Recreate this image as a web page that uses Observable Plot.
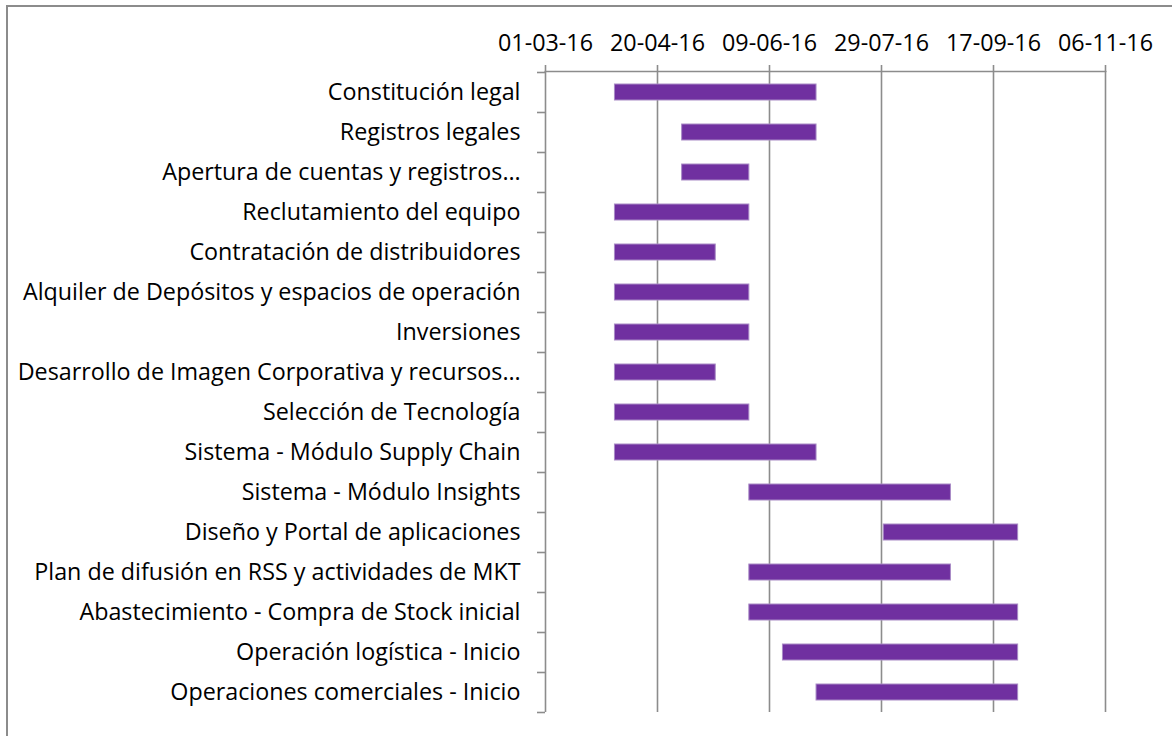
<!DOCTYPE html>
<html>
<head>
<meta charset="utf-8">
<script src="https://cdn.jsdelivr.net/npm/d3@7"></script>
<script src="https://cdn.jsdelivr.net/npm/@observablehq/plot@0.6"></script>
<style>
  html, body { margin: 0; padding: 0; background: #fff; overflow: hidden; width: 1172px; height: 736px; }
  #frame { position: absolute; left: 6px; top: 5px; width: 1200px; height: 800px; border: 2px solid #8c8c8c; box-sizing: border-box; }
  #chart { position: absolute; left: 0; top: 0; }
</style>
</head>
<body>
<div id="frame"></div>
<div id="chart"></div>
<script>
const tasks = [
  "Constitución legal",
  "Registros legales",
  "Apertura de cuentas y registros…",
  "Reclutamiento del equipo",
  "Contratación de distribuidores",
  "Alquiler de Depósitos y espacios de operación",
  "Inversiones",
  "Desarrollo de Imagen Corporativa y recursos…",
  "Selección de Tecnología",
  "Sistema - Módulo Supply Chain",
  "Sistema - Módulo Insights",
  "Diseño y Portal de aplicaciones",
  "Plan de difusión en RSS y actividades de MKT",
  "Abastecimiento - Compra de Stock inicial",
  "Operación logística - Inicio",
  "Operaciones comerciales - Inicio"
];
const starts = [
  "2016-04-01", "2016-05-01", "2016-05-01", "2016-04-01",
  "2016-04-01", "2016-04-01", "2016-04-01", "2016-04-01",
  "2016-04-01", "2016-04-01", "2016-05-31", "2016-07-30",
  "2016-05-31", "2016-05-31", "2016-06-15", "2016-06-30"
];
const ends = [
  "2016-06-30", "2016-06-30", "2016-05-31", "2016-05-31",
  "2016-05-16", "2016-05-31", "2016-05-31", "2016-05-16",
  "2016-05-31", "2016-06-30", "2016-08-29", "2016-09-28",
  "2016-08-29", "2016-09-28", "2016-09-28", "2016-09-28"
];
const tickLabels = ["01-03-16", "20-04-16", "09-06-16", "29-07-16", "17-09-16", "06-11-16"];

const parseTick = d3.utcParse("%d-%m-%y");
const tickDates = tickLabels.map(parseTick);
const data = tasks.map((t, i) => ({task: t, start: new Date(starts[i]), end: new Date(ends[i])}));

const font = "'Open Sans', Lato, sans-serif";
const grid = "#8c8c8c";

const chart = Plot.plot({
  width: 1172,
  height: 736,
  marginLeft: 545,
  marginRight: 67,
  marginTop: 71,
  marginBottom: 24,
  style: {fontFamily: font, fontSize: "23.3px", color: "#000", background: "transparent"},
  x: {type: "utc", domain: [tickDates[0], tickDates[tickDates.length - 1]]},
  y: {domain: tasks, paddingInner: 0.6, paddingOuter: 0.3},
  marks: [
    Plot.ruleX(tickDates, {stroke: grid, strokeWidth: 1.6}),
    Plot.frame({anchor: "top", stroke: grid, strokeWidth: 1.6}),
    Plot.axisX({anchor: "top", ticks: tickDates, tickFormat: d3.utcFormat("%d-%m-%y"), tickSize: 7, tickPadding: 14, stroke: grid, strokeWidth: 1.6, fill: "#000", label: null}),
    Plot.axisY({anchor: "left", tickSize: 0, tickPadding: 25, fill: "#000", label: null}),
    Plot.axisY({anchor: "left", tickSize: 8, tickFormat: () => "", dy: -20, stroke: grid, strokeWidth: 1.6, label: null}),
    Plot.axisY({anchor: "left", ticks: [tasks[tasks.length - 1]], tickSize: 8, tickFormat: () => "", dy: 20, stroke: grid, strokeWidth: 1.6, label: null}),
    Plot.barX(data, {x1: "start", x2: "end", y: "task", fill: "#7030A0", stroke: "#a98bc6", strokeWidth: 1})
  ]
});
document.getElementById("chart").append(chart);
</script>
</body>
</html>
